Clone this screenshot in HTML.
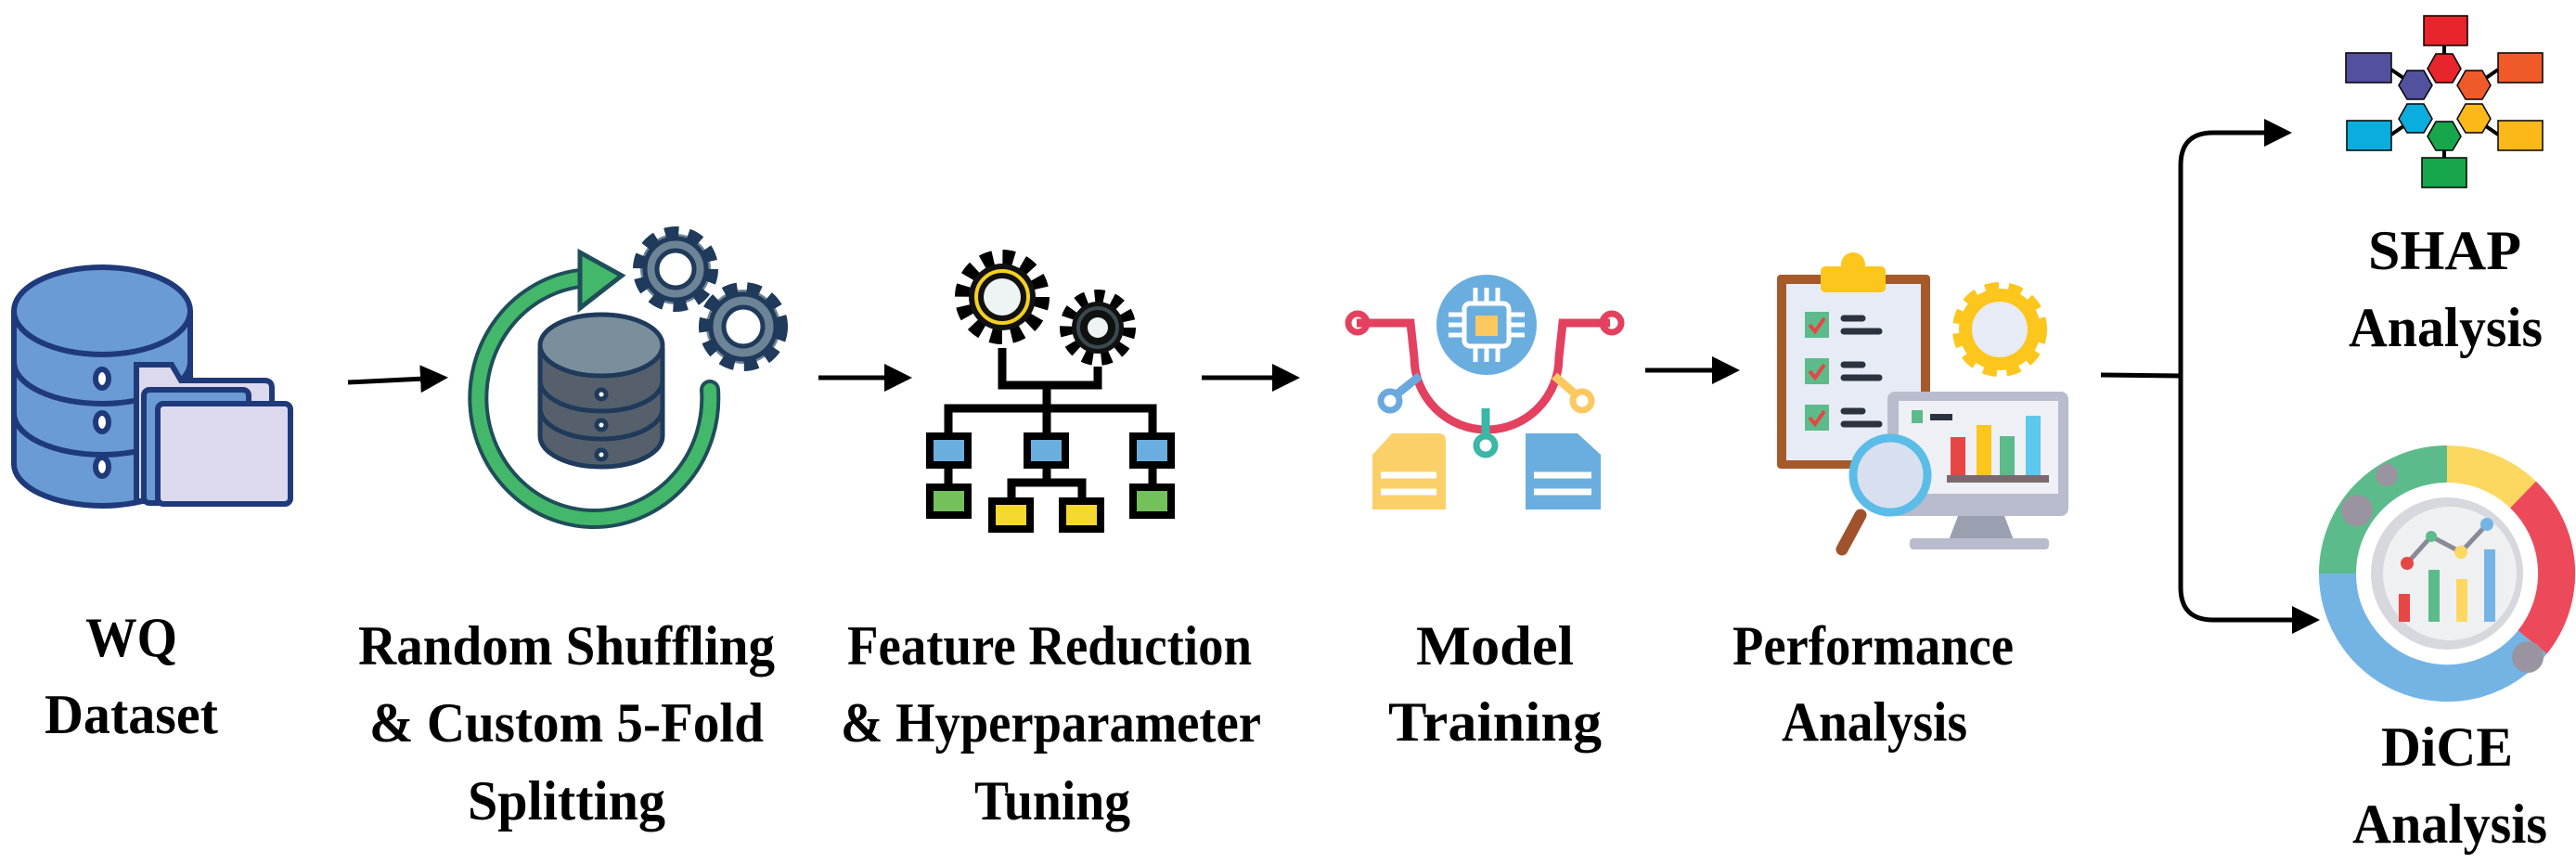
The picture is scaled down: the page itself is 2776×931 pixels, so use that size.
<!DOCTYPE html>
<html><head><meta charset="utf-8"><style>
html,body{margin:0;padding:0;background:#fff;}
svg{display:block}
</style></head><body>
<svg width="2776" height="931" viewBox="0 0 2776 931" xmlns="http://www.w3.org/2000/svg">
<defs>
<marker id="ah" markerWidth="6" markerHeight="6" refX="5" refY="3" orient="auto" markerUnits="strokeWidth">
<path d="M0,0 L6,3 L0,6 Z" fill="#000"/></marker>
</defs>
<g stroke="#000" stroke-width="5" fill="none">
<line x1="375" y1="412" x2="478" y2="407" marker-end="url(#ah)"/>
<line x1="882" y1="407" x2="978" y2="407" marker-end="url(#ah)"/>
<line x1="1295" y1="407" x2="1396" y2="407" marker-end="url(#ah)"/>
<line x1="1773" y1="399" x2="1870" y2="399" marker-end="url(#ah)"/>
<path d="M2264,404 L2350,405"/>
<path d="M2465,143 L2385,143 Q2350,143 2350,178 L2350,633 Q2350,668 2385,668 L2495,668" />
<line x1="2440" y1="143" x2="2465" y2="143" marker-end="url(#ah)"/>
<line x1="2470" y1="668" x2="2495" y2="668" marker-end="url(#ah)"/>
</g>

<g stroke="#1f3a7a" stroke-width="6">
<path d="M15,335 L15,500 A95,45 0 0 0 205,500 L205,335" fill="#6a9bd4"/>
<path d="M15,390 A95,45 0 0 0 205,390 M15,445 A95,45 0 0 0 205,445" fill="none"/>
<ellipse cx="110" cy="335" rx="95" ry="47" fill="#6a9bd4"/>
<ellipse cx="110" cy="408" rx="7" ry="10" fill="#fff"/>
<ellipse cx="110" cy="455" rx="7" ry="10" fill="#fff"/>
<ellipse cx="110" cy="503" rx="7" ry="10" fill="#fff"/>
<path d="M147,393 L185,393 L195,410 L285,410 Q293,410 293,418 L293,540 L147,540 Z" fill="#dcd9ee"/>
<rect x="155" y="420" width="113" height="122" rx="6" fill="#6a9bd4"/>
<rect x="170" y="435" width="143" height="108" rx="6" fill="#dcd9ee"/>
</g>

<path d="M765,420 A125,130 0 1 1 625,300" fill="none" stroke="#1f4e5a" stroke-width="22" stroke-linecap="round"/>
<path d="M765,420 A125,130 0 1 1 625,300" fill="none" stroke="#44b86a" stroke-width="14" stroke-linecap="round"/>
<path d="M625,272 L670,297 L625,332 Z" fill="#44b86a" stroke="#1f4e5a" stroke-width="5"/>
<g stroke="#1f3a5a" stroke-width="5">
<path d="M582,375 L582,470 A66,33 0 0 0 714,470 L714,375" fill="#55606c"/>
<path d="M582,410 A66,33 0 0 0 714,410 M582,440 A66,33 0 0 0 714,440" fill="none"/>
<ellipse cx="648" cy="372" rx="66" ry="33" fill="#7b8e9c"/>
<circle cx="648" cy="425" r="5" fill="#fff"/><circle cx="648" cy="458" r="5" fill="#fff"/><circle cx="648" cy="490" r="5" fill="#fff"/>
</g>
<g stroke="#1f3a5a" stroke-width="5" fill="#6d8396">
<circle cx="728" cy="290" r="38" stroke-dasharray="14 10" stroke-width="16"/>
<circle cx="728" cy="290" r="33"/>
<circle cx="728" cy="290" r="20" fill="#fff"/>
<circle cx="801" cy="352" r="40" stroke-dasharray="14 10" stroke-width="16"/>
<circle cx="801" cy="352" r="35"/>
<circle cx="801" cy="352" r="21" fill="#fff"/>
</g>

<g stroke="#000" stroke-width="9" fill="none">
<circle cx="1080" cy="320" r="42" stroke-dasharray="12 10" stroke-width="18"/>
<circle cx="1183" cy="353" r="33" stroke-dasharray="10 9" stroke-width="16"/>
</g>
<circle cx="1080" cy="320" r="36" fill="#111"/>
<circle cx="1080" cy="320" r="28" fill="none" stroke="#f5d020" stroke-width="4"/>
<circle cx="1080" cy="320" r="20" fill="#eef3f3"/>
<circle cx="1183" cy="353" r="28" fill="#111"/>
<circle cx="1183" cy="353" r="21" fill="none" stroke="#3a4a50" stroke-width="4"/>
<circle cx="1183" cy="353" r="11" fill="#eef3f3"/>
<g stroke="#000" stroke-width="9" fill="none">
<path d="M1080,375 L1080,415 L1183,415 L1183,395 M1128,415 L1128,440 M1022,470 L1022,440 L1242,440 L1242,470 M1128,440 L1128,470 M1022,500 L1022,525 M1242,500 L1242,525 M1128,500 L1128,520 M1090,540 L1090,520 L1166,520 L1166,540"/>
</g>
<g stroke="#000" stroke-width="8">
<rect x="1002" y="470" width="41" height="31" fill="#6aaee0"/>
<rect x="1107" y="470" width="41" height="31" fill="#6aaee0"/>
<rect x="1221" y="470" width="41" height="31" fill="#6aaee0"/>
<rect x="1002" y="525" width="41" height="30" fill="#74c05a"/>
<rect x="1221" y="525" width="41" height="30" fill="#74c05a"/>
<rect x="1069" y="540" width="41" height="30" fill="#f5d830"/>
<rect x="1145" y="540" width="41" height="30" fill="#f5d830"/>
</g>

<g fill="none" stroke-width="9">
<path d="M1462,348 L1520,348 L1524,385 A78,78 0 0 0 1680,385 L1684,348 L1735,348" stroke="#e3415f"/>
<circle cx="1463" cy="348" r="10" stroke="#e3415f" stroke-width="7"/>
<circle cx="1737" cy="348" r="10" stroke="#e3415f" stroke-width="7"/>
<path d="M1530,405 L1505,425" stroke="#6aa8de"/><circle cx="1498" cy="432" r="10" stroke="#6aa8de" stroke-width="7"/>
<path d="M1675,405 L1698,425" stroke="#fcc860"/><circle cx="1705" cy="432" r="10" stroke="#fcc860" stroke-width="7"/>
<path d="M1601,440 L1601,470" stroke="#3ab7a6"/><circle cx="1601" cy="480" r="10" stroke="#3ab7a6" stroke-width="7"/>
</g>
<circle cx="1602" cy="350" r="54" fill="#6aaee0"/>
<g stroke="#fff" stroke-width="5" fill="none">
<rect x="1578" y="327" width="48" height="46" rx="6"/>
<path d="M1590,310 v17 M1602,310 v17 M1614,310 v17 M1590,373 v17 M1602,373 v17 M1614,373 v17 M1561,339 h17 M1561,350 h17 M1561,361 h17 M1626,339 h17 M1626,350 h17 M1626,361 h17"/>
</g>
<rect x="1590" y="340" width="24" height="22" fill="#fcc860"/>
<path d="M1500,467 L1550,467 Q1558,467 1558,475 L1558,549 L1479,549 L1479,490 Z" fill="#fcd068"/>
<path d="M1488,512 h60 M1488,530 h60" stroke="#fff" stroke-width="7"/>
<path d="M1644,467 L1700,467 L1725,490 L1725,549 L1644,549 Z" fill="#6aaee0"/>
<path d="M1653,512 h62 M1653,530 h62" stroke="#fff" stroke-width="7"/>

<rect x="1915" y="296" width="165" height="209" rx="4" fill="#a65a2a"/>
<rect x="1925" y="306" width="145" height="190" fill="#e6ebf5"/>
<rect x="1962" y="287" width="70" height="28" rx="5" fill="#fcc61c"/>
<circle cx="1997" cy="285" r="13" fill="#fcc61c"/>
<g fill="#5cbb8a"><rect x="1945" y="336" width="26" height="28"/><rect x="1945" y="386" width="26" height="28"/><rect x="1945" y="436" width="26" height="28"/></g>
<g stroke="#e84545" stroke-width="4" fill="none"><path d="M1950,350 l6,7 l10,-14 M1950,400 l6,7 l10,-14 M1950,450 l6,7 l10,-14"/></g>
<g stroke="#2c3240" stroke-width="7" stroke-linecap="round"><path d="M1987,343 h20 M1987,357 h38 M1987,393 h20 M1987,407 h38 M1987,443 h20 M1987,457 h38"/></g>
<circle cx="2155" cy="355" r="44" fill="#fcc61c" stroke="#fcc61c" stroke-width="14" stroke-dasharray="14 10"/>
<circle cx="2155" cy="355" r="30" fill="#e6ebf5"/>
<rect x="2034" y="422" width="195" height="134" rx="8" fill="#b8bccc"/>
<rect x="2046" y="432" width="172" height="100" fill="#eef0f5"/>
<path d="M2110,556 L2160,556 L2170,582 L2100,582 Z" fill="#9aa0b0"/>
<rect x="2058" y="580" width="150" height="12" rx="4" fill="#b8bccc"/>
<rect x="2060" y="442" width="12" height="14" fill="#5cbb8a"/>
<rect x="2080" y="446" width="24" height="7" fill="#2c3240"/>
<rect x="2102" y="471" width="16" height="42" fill="#e84545"/>
<rect x="2130" y="458" width="16" height="55" fill="#fcc61c"/>
<rect x="2155" y="470" width="16" height="43" fill="#5cbb8a"/>
<rect x="2183" y="448" width="16" height="65" fill="#5cc8ee"/>
<rect x="2098" y="512" width="110" height="8" fill="#7a6a70"/>
<path d="M2005,555 L1985,592" stroke="#a0522d" stroke-width="13" stroke-linecap="round"/>
<circle cx="2037" cy="512" r="40" fill="#d8e0f0" stroke="#5cbce8" stroke-width="9"/>

<g stroke="#000" stroke-width="4">
<path d="M2634,49 L2634,60 M2577,75 L2590,84 M2692,75 L2679,84 M2577,145 L2590,136 M2692,145 L2679,136 M2634,160 L2634,170"/>
</g>
<g stroke="#000" stroke-width="1.5">
<rect x="2612" y="17" width="47" height="32" fill="#e8242c"/>
<rect x="2528" y="57" width="49" height="32" fill="#52519e"/>
<rect x="2692" y="57" width="48" height="32" fill="#f05a28"/>
<rect x="2529" y="130" width="48" height="32" fill="#0aaede"/>
<rect x="2692" y="130" width="48" height="32" fill="#fbb818"/>
<rect x="2610" y="170" width="48" height="32" fill="#17a64c"/>
<polygon points="2616,74 2625,58 2643,58 2652,74 2643,89 2625,89" fill="#e8242c"/>
<polygon points="2648,92 2657,76 2675,76 2684,92 2675,107 2657,107" fill="#f05a28"/>
<polygon points="2648,128 2657,112 2675,112 2684,128 2675,143 2657,143" fill="#fbb818"/>
<polygon points="2616,147 2625,131 2643,131 2652,147 2643,162 2625,162" fill="#17a64c"/>
<polygon points="2585,128 2594,112 2612,112 2621,128 2612,143 2594,143" fill="#0aaede"/>
<polygon points="2585,92 2594,76 2612,76 2621,92 2612,107 2594,107" fill="#52519e"/>
</g>

<g fill="none" stroke-width="40">
<path d="M2519,618 A118,118 0 0 1 2637,500" stroke="#5cbb8a"/>
<path d="M2637,500 A118,118 0 0 1 2719,533" stroke="#fcd860"/>
<path d="M2719,533 A118,118 0 0 1 2729,692" stroke="#ec4a5a"/>
<path d="M2729,692 A118,118 0 0 1 2519,618" stroke="#74b4e4"/>
</g>
<circle cx="2637" cy="618" r="82" fill="#d6d8de"/>
<circle cx="2640" cy="618" r="72" fill="#eef0f2"/>
<rect x="2585" y="640" width="12" height="30" fill="#e84545"/>
<rect x="2617" y="614" width="12" height="56" fill="#5cbb8a"/>
<rect x="2647" y="624" width="12" height="46" fill="#fcd860"/>
<rect x="2677" y="592" width="12" height="78" fill="#74b4e4"/>
<path d="M2594,607 L2620,578 L2652,595 L2680,565" stroke="#8a8a96" stroke-width="5" fill="none"/>
<circle cx="2594" cy="607" r="7" fill="#e84545"/><circle cx="2620" cy="578" r="6" fill="#5cbb8a"/><circle cx="2652" cy="595" r="7" fill="#fcd860"/><circle cx="2680" cy="565" r="7" fill="#74b4e4"/>
<circle cx="2572" cy="512" r="12" fill="#9a94a0"/>
<circle cx="2540" cy="550" r="17" fill="#9a94a0"/>
<circle cx="2724" cy="708" r="17" fill="#9a94a0"/>

<g font-family="Liberation Serif, Times New Roman, serif" font-weight="bold" font-size="60" fill="#000" lengthAdjust="spacingAndGlyphs">
<text x="92" y="707" textLength="99" lengthAdjust="spacingAndGlyphs">WQ</text>
<text x="48" y="790" textLength="187" lengthAdjust="spacingAndGlyphs">Dataset</text>
<text x="386" y="716" textLength="449" lengthAdjust="spacingAndGlyphs">Random Shuffling</text>
<text x="398" y="799" textLength="425" lengthAdjust="spacingAndGlyphs">&amp; Custom 5-Fold</text>
<text x="504" y="883" textLength="213" lengthAdjust="spacingAndGlyphs">Splitting</text>
<text x="913" y="716" textLength="436" lengthAdjust="spacingAndGlyphs">Feature Reduction</text>
<text x="906" y="799" textLength="453" lengthAdjust="spacingAndGlyphs">&amp; Hyperparameter</text>
<text x="1050" y="883" textLength="168" lengthAdjust="spacingAndGlyphs">Tuning</text>
<text x="1526" y="716" textLength="170" lengthAdjust="spacingAndGlyphs">Model</text>
<text x="1496" y="798" textLength="230" lengthAdjust="spacingAndGlyphs">Training</text>
<text x="1867" y="716" textLength="303" lengthAdjust="spacingAndGlyphs">Performance</text>
<text x="1920" y="798" textLength="200" lengthAdjust="spacingAndGlyphs">Analysis</text>
<text x="2552" y="290" textLength="165" lengthAdjust="spacingAndGlyphs">SHAP</text>
<text x="2531" y="373" textLength="209" lengthAdjust="spacingAndGlyphs">Analysis</text>
<text x="2566" y="825" textLength="142" lengthAdjust="spacingAndGlyphs">DiCE</text>
<text x="2535" y="908" textLength="210" lengthAdjust="spacingAndGlyphs">Analysis</text>
</g>
</svg>
</body></html>
